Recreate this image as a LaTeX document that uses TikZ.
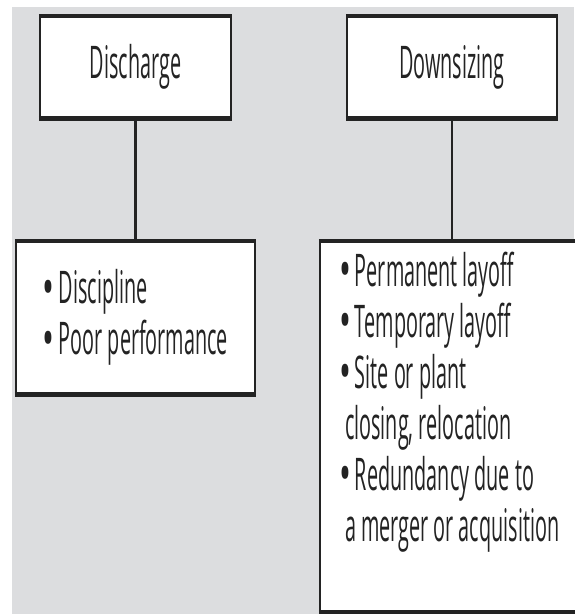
\documentclass[tikz,border=0pt]{standalone}
\usepackage{fontspec}
\usepackage{graphicx}
\setmainfont[FakeStretch=0.44]{Open Sans}
\usetikzlibrary{positioning}
\definecolor{bggray}{RGB}{220,221,223}
\definecolor{inkgray}{RGB}{35,35,35}
\tikzset{box/.style={draw=inkgray,
      line width=2.5pt,
      fill=white,
      inner sep=0pt,
      align=left,
      text=inkgray,
      font=\fontsize{45}{51}\selectfont
    },
  rim/.style={draw=inkgray, line width=4.5pt},
  link/.style={draw=inkgray, line width=2.5pt}
}
\newcommand{\bul}{\raisebox{-2.5pt}[0pt][0pt]{\scalebox{1.6}[1.2]{\textbullet}}\hspace{4pt}}

\begin{document}
\begin{tikzpicture}[x=1pt,y=-1pt]
    \useasboundingbox (0,0) rectangle (574,614);
    \fill[bggray] (12,7) rectangle (574,614);
    % causes
    \node[box, minimum width=191pt, minimum height=100pt] (dis) at (135.5,67) {Discharge};
    \node[box, minimum width=210pt, minimum height=100pt] (dow) at (452,67) {Downsizing};
    % reasons
    \node[box, minimum width=239pt, minimum height=151pt] (disr) at (135.5,317.5)
        {\bul Discipline\\ \bul Poor performance};
    \node[box, inner xsep=19pt, inner ysep=10pt] (dowr) at (455,426.5)
        {\parbox[c][349pt][t]{232pt}{\raggedright
          \bul Permanent layoff\\
          \bul Temporary layoff\\
          \bul Site or plant\\
          \hspace*{6pt}closing, relocation\\
          \bul Redundancy due to\\
          \hspace*{6pt}a merger or acquisition}};
    \foreach \n in {dis,dow,disr,dowr}
        \draw[rim] (\n.north west) -- (\n.north east) (\n.south west) -- (\n.south east);
    \draw[link] (dis) -- (disr);
    \draw[link] (dow.south) -- (dow.south |- dowr.north);
\end{tikzpicture}
\end{document}
